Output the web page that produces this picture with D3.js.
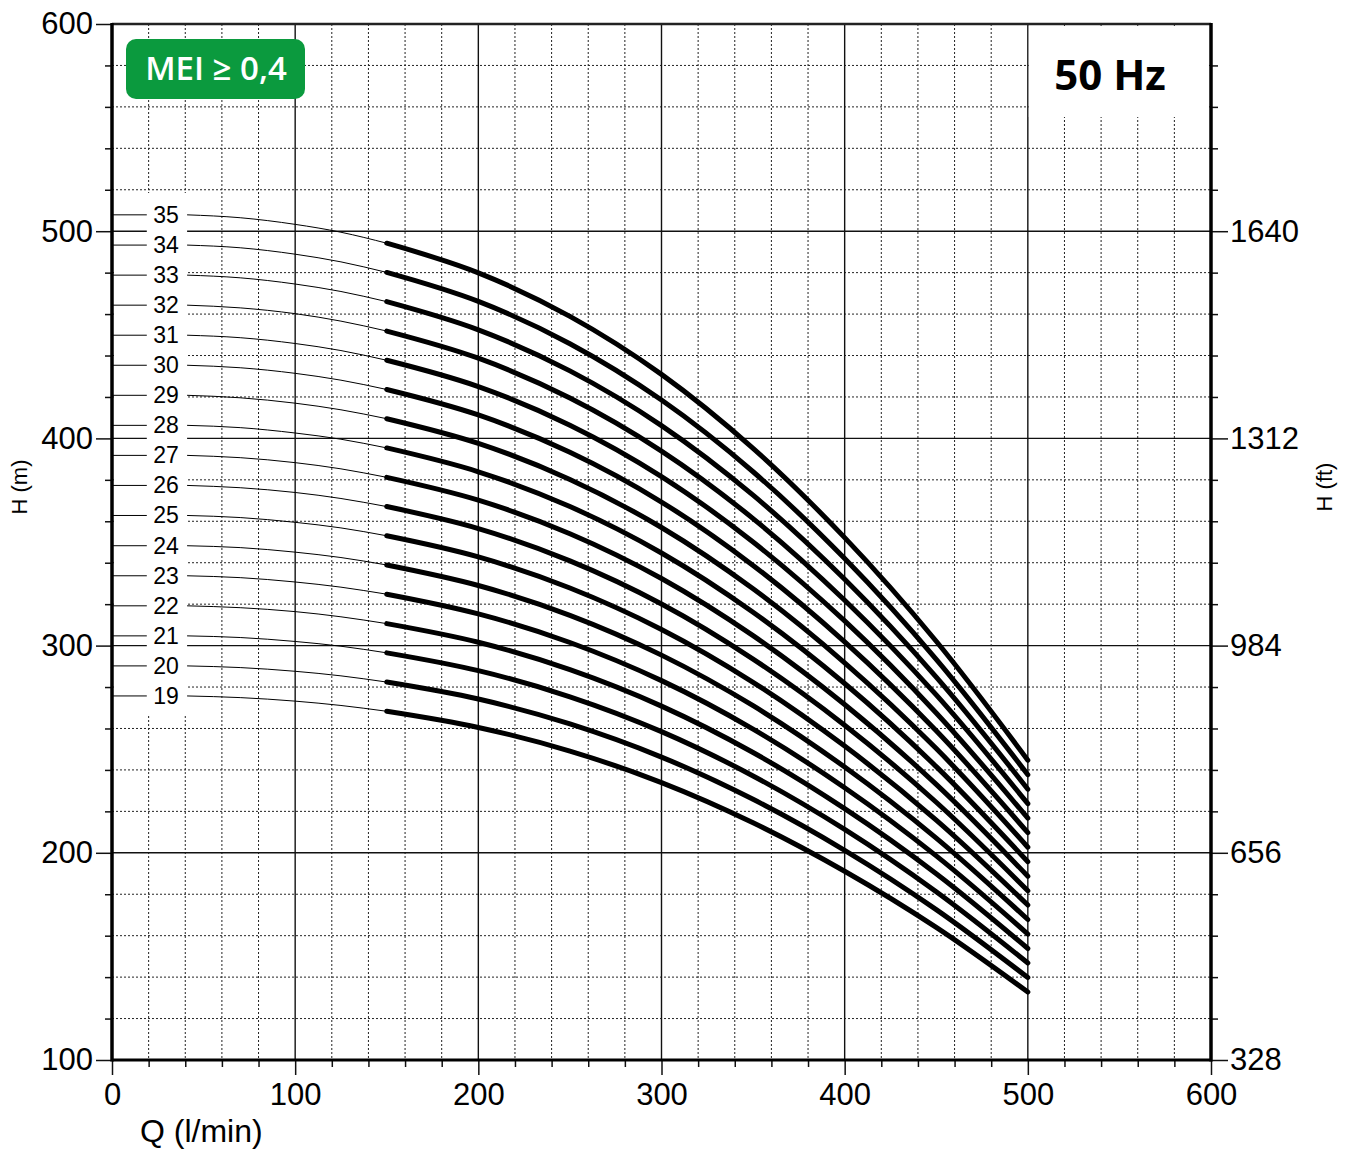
<!DOCTYPE html>
<html>
<head>
<meta charset="utf-8">
<script src="https://cdn.jsdelivr.net/npm/d3@7"></script>
<style>
  body { margin: 0; background: #fff; }
  text { font-family: "Liberation Sans", Arial, sans-serif; }
</style>
</head>
<body>
<div id="chart-container"></div>
<script>
// number of stages, one curve each
const stages = [19, 20, 21, 22, 23, 24, 25, 26, 27, 28, 29, 30, 31, 32, 33, 34, 35];

// Q (l/min) where the heavy curve is read
const flowPoints = [150, 200, 250, 300, 350, 400, 450, 500];
// H (m) per curve, same order as stages
const headCurves = [
  [268.3, 260.5, 249.1, 233.9, 214.5, 191.1, 164.0, 132.8],
  [282.4, 274.2, 262.2, 246.2, 225.8, 201.2, 172.6, 139.8],
  [296.5, 287.9, 275.3, 258.5, 237.1, 211.3, 181.2, 146.8],
  [310.6, 301.6, 288.4, 270.8, 248.4, 221.3, 189.9, 153.8],
  [324.8, 315.3, 301.5, 283.1, 259.7, 231.4, 198.5, 160.8],
  [338.9, 329.0, 314.6, 295.4, 271.0, 241.4, 207.1, 167.8],
  [353.0, 342.8, 327.8, 307.8, 282.3, 251.5, 215.8, 174.8],
  [367.1, 356.5, 340.9, 320.1, 293.5, 261.6, 224.4, 181.7],
  [381.2, 370.2, 354.0, 332.4, 304.8, 271.6, 233.0, 188.7],
  [395.4, 383.9, 367.1, 344.7, 316.1, 281.7, 241.6, 195.7],
  [409.5, 397.6, 380.2, 357.0, 327.4, 291.7, 250.3, 202.7],
  [423.6, 411.3, 393.3, 369.3, 338.7, 301.8, 258.9, 209.7],
  [437.7, 425.0, 406.4, 381.6, 350.0, 311.9, 267.5, 216.7],
  [451.8, 438.7, 419.5, 393.9, 361.3, 321.9, 276.2, 223.7],
  [466.0, 452.4, 432.6, 406.2, 372.6, 332.0, 284.8, 230.7],
  [480.1, 466.1, 445.7, 418.5, 383.9, 342.0, 293.4, 237.7],
  [494.2, 479.9, 458.9, 430.9, 395.2, 352.1, 302.1, 244.7]
];

// thin leader lines from the stage label to the curve start
const leaderFlow = [41, 70, 100, 125, 150];
const leaderHeads = [
  [275.7, 274.9, 273.2, 271.1, 268.3],
  [290.2, 289.4, 287.6, 285.4, 282.4],
  [304.7, 303.9, 302.0, 299.7, 296.5],
  [319.2, 318.3, 316.4, 313.9, 310.6],
  [333.7, 332.8, 330.7, 328.2, 324.8],
  [348.2, 347.3, 345.1, 342.5, 338.9],
  [362.8, 361.8, 359.5, 356.8, 353.0],
  [377.3, 376.2, 373.9, 371.0, 367.1],
  [391.8, 390.7, 388.3, 385.3, 381.2],
  [406.3, 405.2, 402.6, 399.6, 395.4],
  [420.8, 419.6, 417.0, 413.8, 409.5],
  [435.3, 434.1, 431.4, 428.1, 423.6],
  [449.8, 448.6, 445.8, 442.4, 437.7],
  [464.3, 463.0, 460.2, 456.6, 451.8],
  [478.8, 477.5, 474.5, 470.9, 466.0],
  [493.3, 492.0, 488.9, 485.2, 480.1],
  [507.9, 506.5, 503.3, 499.5, 494.2]
];

const xTicks = [0, 100, 200, 300, 400, 500, 600];
const yTicks = [100, 200, 300, 400, 500, 600];
const ftTicks = [328, 656, 984, 1312, 1640];

const margin = {top: 24, right: 138, bottom: 91, left: 112},
      width = 1349 - margin.left - margin.right,
      height = 1151 - margin.top - margin.bottom;

const svg = d3.select("#chart-container").append("svg")
    .attr("width", 1349)
    .attr("height", 1151)
    .style("display", "block");

const g = svg.append("g")
    .attr("transform", `translate(${margin.left}, ${margin.top})`);

const x = d3.scaleLinear().domain([0, 600]).range([0, width]);
const y = d3.scaleLinear().domain([100, 600]).range([height, 0]);
const yFt = d3.scaleLinear().domain([328, 1968]).range([height, 0]);

const xMinor = d3.range(0, 601, 20).filter(v => v % 100 !== 0);
const yMinor = d3.range(100, 601, 20).filter(v => v % 100 !== 0);

// minor grid (dotted)
const grid = g.append("g");
grid.selectAll(".vmin").data(xMinor).enter().append("line")
    .attr("x1", d => x(d)).attr("x2", d => x(d))
    .attr("y1", 0).attr("y2", height)
    .attr("stroke", "#222").attr("stroke-width", 1).attr("stroke-dasharray", "2,2");
grid.selectAll(".hmin").data(yMinor).enter().append("line")
    .attr("y1", d => y(d)).attr("y2", d => y(d))
    .attr("x1", 0).attr("x2", width)
    .attr("stroke", "#222").attr("stroke-width", 1).attr("stroke-dasharray", "2,2");

// white patches: label column and the 50 Hz box
g.append("rect")
    .attr("x", 2).attr("y", 169)
    .attr("width", x(41) - 2).attr("height", 523)
    .attr("fill", "#fff");
g.append("rect")
    .attr("x", x(500) + 1).attr("y", 2)
    .attr("width", x(600) - x(500) - 3).attr("height", 91)
    .attr("fill", "#fff");

// major grid (solid)
grid.selectAll(".vmaj").data(xTicks.slice(1, -1)).enter().append("line")
    .attr("x1", d => x(d)).attr("x2", d => x(d))
    .attr("y1", 0).attr("y2", height)
    .attr("stroke", "#111").attr("stroke-width", 1.4);
g.selectAll(".hmaj").data(yTicks.slice(1, -1)).enter().append("line")
    .attr("y1", d => y(d)).attr("y2", d => y(d))
    .attr("x1", d => (d >= 300 && d <= 500) ? x(41) : 0)
    .attr("x2", width)
    .attr("stroke", "#111").attr("stroke-width", 1.4);
g.selectAll(".hmajL").data([300, 400, 500]).enter().append("line")
    .attr("y1", d => y(d)).attr("y2", d => y(d))
    .attr("x1", 0).attr("x2", x(19))
    .attr("stroke", "#111").attr("stroke-width", 1.4);

// leaders + stage labels
const leaderLine = d3.line()
    .x(d => x(d[0])).y(d => y(d[1]))
    .curve(d3.curveMonotoneX);

stages.forEach((n, i) => {
    const pts = leaderFlow.map((q, j) => [q, leaderHeads[i][j]]);
    g.append("path")
        .attr("d", leaderLine(pts))
        .attr("fill", "none").attr("stroke", "#000").attr("stroke-width", 1);
    g.append("line")
        .attr("x1", x(0)).attr("x2", x(19))
        .attr("y1", y(leaderHeads[i][0])).attr("y2", y(leaderHeads[i][0]))
        .attr("stroke", "#000").attr("stroke-width", 1);
    g.append("text")
        .attr("x", x(29.5))
        .attr("y", y(leaderHeads[i][0]))
        .attr("text-anchor", "middle")
        .attr("dominant-baseline", "central")
        .attr("font-size", 23)
        .text(n);
});

// pump curves
const curveLine = d3.line()
    .x(d => x(d[0])).y(d => y(d[1]))
    .curve(d3.curveCatmullRom);

g.selectAll(".pump").data(headCurves).enter().append("path")
    .attr("class", "pump")
    .attr("d", d => curveLine(flowPoints.map((q, j) => [q, d[j]])))
    .attr("fill", "none")
    .attr("stroke", "#000")
    .attr("stroke-width", 5)
    .attr("stroke-linecap", "round");

// axes
function styleAxis(sel, size) {
    sel.select(".domain").remove();
    sel.attr("font-family", "'Liberation Sans', Arial, sans-serif")
       .attr("font-size", size);
    sel.selectAll("line").attr("stroke", "#111").attr("stroke-width", 1.5);
    sel.selectAll("text").attr("fill", "#000");
}

g.append("g").call(d3.axisLeft(y).tickValues(yMinor).tickSize(7).tickFormat(""))
    .call(styleAxis, 31);
g.append("g").call(d3.axisLeft(y).tickValues(yTicks).tickSize(16).tickPadding(3))
    .call(styleAxis, 31);

g.append("g").attr("transform", `translate(0, ${height})`)
    .call(d3.axisBottom(x).tickValues(xMinor).tickSize(7).tickFormat(""))
    .call(styleAxis, 31);
g.append("g").attr("transform", `translate(0, ${height})`)
    .call(d3.axisBottom(x).tickValues(xTicks).tickSize(15).tickPadding(8))
    .call(styleAxis, 31);

g.append("g").attr("transform", `translate(${width}, 0)`)
    .call(d3.axisRight(y).tickValues(yMinor).tickSize(7).tickFormat(""))
    .call(styleAxis, 31);
g.append("g").attr("transform", `translate(${width}, 0)`)
    .call(d3.axisRight(yFt).tickValues(ftTicks).tickSize(17).tickPadding(2)
        .tickFormat(d3.format("d")))
    .call(styleAxis, 31);

// frame
g.append("line").attr("x1", 0).attr("x2", width).attr("y1", 0).attr("y2", 0)
    .attr("stroke", "#222").attr("stroke-width", 2.5);
g.append("line").attr("x1", 0).attr("x2", 0).attr("y1", -1).attr("y2", height + 1.5)
    .attr("stroke", "#000").attr("stroke-width", 3.5);
g.append("line").attr("x1", width).attr("x2", width).attr("y1", -1).attr("y2", height + 1.5)
    .attr("stroke", "#000").attr("stroke-width", 3.5);
g.append("line").attr("x1", 0).attr("x2", width).attr("y1", height).attr("y2", height)
    .attr("stroke", "#000").attr("stroke-width", 3);

// axis titles
svg.append("text")
    .attr("x", 140).attr("y", 1142)
    .attr("font-size", 32)
    .text("Q (l/min)");

svg.append("text")
    .attr("transform", "rotate(-90)")
    .attr("x", -487).attr("y", 27)
    .attr("text-anchor", "middle")
    .attr("font-size", 22)
    .text("H (m)");

svg.append("text")
    .attr("transform", "rotate(-90)")
    .attr("x", -487).attr("y", 1332)
    .attr("text-anchor", "middle")
    .attr("font-size", 22)
    .text("H (ft)");

// MEI badge
svg.append("rect")
    .attr("x", 126).attr("y", 39)
    .attr("width", 179).attr("height", 60)
    .attr("rx", 10)
    .attr("fill", "#0b9a3e");
svg.append("text")
    .attr("x", 216).attr("y", 80)
    .attr("text-anchor", "middle")
    .attr("font-weight", 600)
    .attr("font-size", 33)
    .attr("fill", "#fff")
    .style("font-family", "'Open Sans', sans-serif")
    .text("MEI ≥ 0,4");

// 50 Hz
svg.append("text")
    .attr("x", 1110).attr("y", 90)
    .attr("text-anchor", "middle")
    .attr("font-weight", 700)
    .attr("font-size", 42)
    .style("font-family", "'Open Sans', sans-serif")
    .text("50 Hz");
</script>
</body>
</html>
